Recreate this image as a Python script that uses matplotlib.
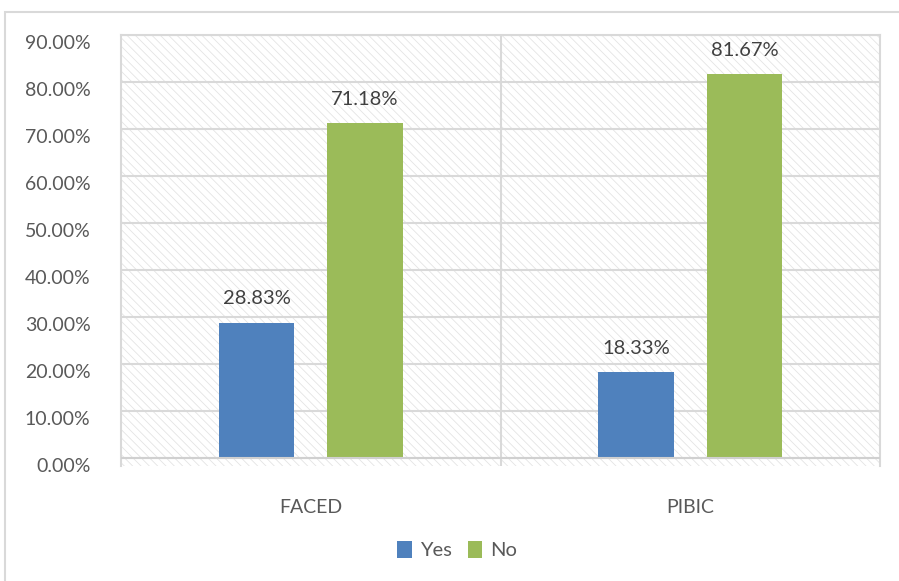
import matplotlib
matplotlib.use("Agg")
import matplotlib.pyplot as plt
import matplotlib.transforms as mtransforms
from matplotlib.patches import Rectangle
from matplotlib.ticker import FuncFormatter
import numpy as np

categories = ["FACED", "PIBIC"]
series_names = ["Yes", "No"]
yes_values = [28.83, 18.33]
no_values = [71.18, 81.67]
colors = ["#4F81BD", "#9BBB59"]

plt.rcParams["font.family"] = ["Lato", "DejaVu Sans"]
plt.rcParams["hatch.linewidth"] = 0.6
plt.rcParams["hatch.color"] = "#e4e4e4"

fig = plt.figure(figsize=(8.99, 5.81), dpi=100)
ax = fig.add_axes([121 / 899, 1 - 466 / 581, (880 - 121) / 899, (466 - 35) / 581])

# outer chart border (cut off at right / bottom)
fig.patches.append(Rectangle((5 / 899, -0.1), 1.2, 1 - 12 / 581 + 0.1,
                             transform=fig.transFigure, fill=False,
                             edgecolor="#d9d9d9", linewidth=1.5))

# hatched plot area
ax.add_patch(Rectangle((0, 0), 1, 1, transform=ax.transAxes, facecolor="white",
                       edgecolor="#e4e4e4", hatch="\\\\\\\\", linewidth=0, zorder=0))

x = np.arange(len(categories))
width = 0.2
offset = 0.143
bars_yes = ax.bar(x - offset, yes_values, width, color=colors[0], label=series_names[0], zorder=3)
bars_no = ax.bar(x + offset, no_values, width, color=colors[1], label=series_names[1], zorder=3)

for bars in (bars_yes, bars_no):
    for b in bars:
        ax.annotate(f"{b.get_height():.2f}%", (b.get_x() + b.get_width() / 2, b.get_height()),
                    xytext=(0, 11), textcoords="offset points", ha="center", va="bottom",
                    fontsize=14.5, color="#404040", zorder=5)

ax.set_xlim(-0.5, 1.5)
ax.set_ylim(-1.7, 90)
ax.set_yticks(np.arange(0, 91, 10))
ax.yaxis.set_major_formatter(FuncFormatter(lambda v, p: f"{v:.2f}%"))
ax.grid(axis="y", color="#d9d9d9", linewidth=1.5, zorder=1)
ax.axhline(0, color="#d0d0d0", linewidth=1.5, zorder=4)
ax.axvline(0.5, color="#d9d9d9", linewidth=1.5, zorder=1)

ax.set_xticks(x)
ax.set_xticklabels(categories)
ax.tick_params(axis="both", length=0, labelcolor="#595959")
ax.tick_params(axis="y", labelsize=14, pad=22)
ax.tick_params(axis="x", labelsize=14, pad=24)

shift = mtransforms.ScaledTranslation(0, -7 / 100, fig.dpi_scale_trans)
for lbl in ax.get_yticklabels():
    lbl.set_transform(lbl.get_transform() + shift)

for side in ["left", "right", "top"]:
    ax.spines[side].set_color("#d9d9d9")
    ax.spines[side].set_linewidth(1.5)
ax.spines["bottom"].set_visible(False)

fig.legend(loc="center", bbox_to_anchor=(457 / 899, 1 - 550 / 581), ncol=2, frameon=False,
           fontsize=14.5, handlelength=0.7, handleheight=0.9, handletextpad=0.4,
           columnspacing=0.8, labelcolor="#595959")

fig.savefig("out.png", dpi=100)
